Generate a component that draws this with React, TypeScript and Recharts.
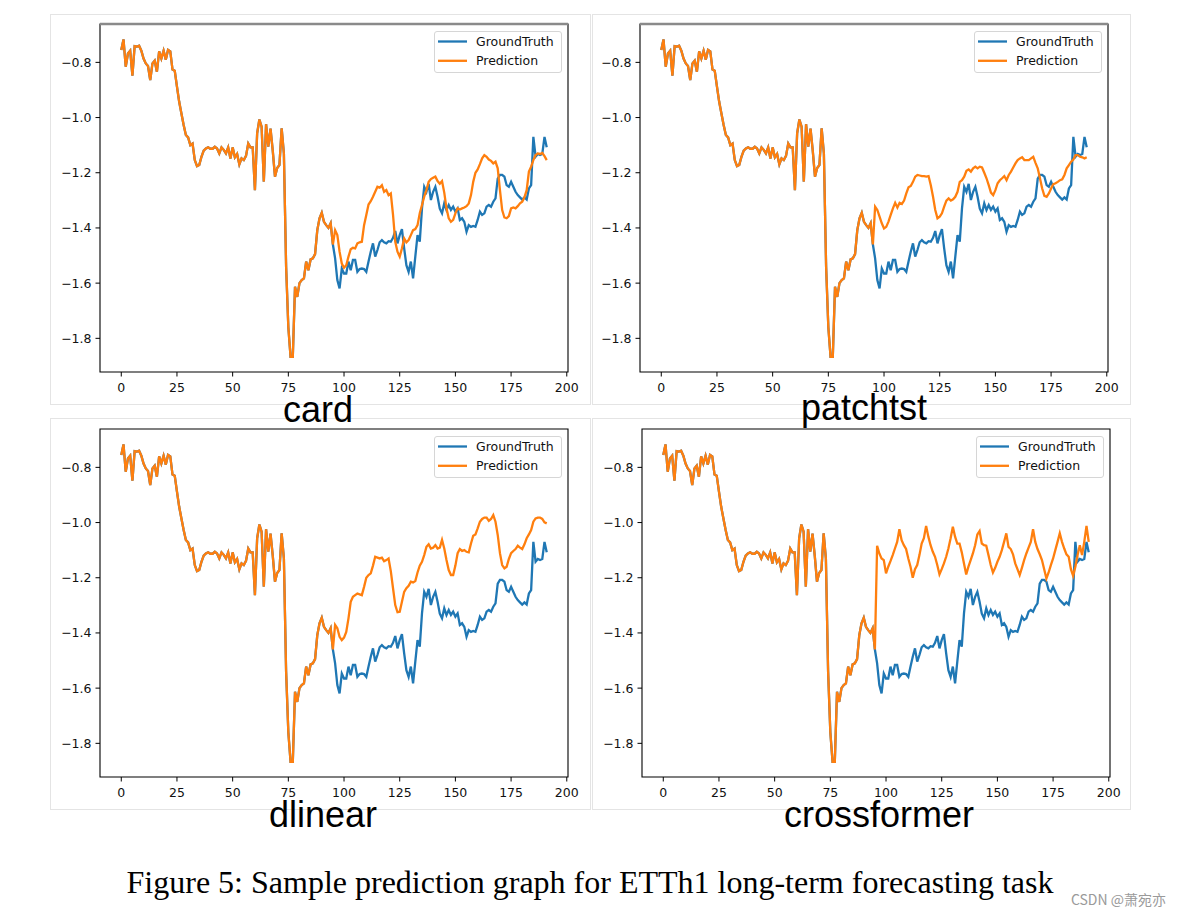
import React from 'react';
import { LineChart, Line, XAxis, YAxis, ReferenceArea, ReferenceLine, Legend } from 'recharts';

// shared look-back window (index 0..95)
const history = [
  -0.755, -0.717, -0.816, -0.768, -0.758, -0.848, -0.741, -0.743, -0.74, -0.758, -0.786, -0.804,
  -0.813, -0.864, -0.804, -0.794, -0.834, -0.76, -0.786, -0.758, -0.79, -0.755, -0.76, -0.826,
  -0.83, -0.888, -0.943, -0.985, -1.027, -1.063, -1.072, -1.1, -1.094, -1.154, -1.176, -1.172,
  -1.142, -1.12, -1.112, -1.108, -1.113, -1.113, -1.106, -1.112, -1.13, -1.108, -1.117, -1.13,
  -1.108, -1.148, -1.108, -1.144, -1.132, -1.17, -1.148, -1.154, -1.139, -1.094, -1.108, -1.108,
  -1.263, -1.057, -1.007, -1.033, -1.232, -1.024, -1.105, -1.04, -1.12, -1.214, -1.183, -1.172,
  -1.039, -1.13, -1.54, -1.76, -1.867, -1.867, -1.613, -1.65, -1.6, -1.589, -1.583, -1.522,
  -1.553, -1.514, -1.51, -1.495, -1.408, -1.365, -1.345, -1.378, -1.39, -1.4, -1.383, -1.46,
];

// ground truth horizon (index 96..191)
const truthFuture = [
  -1.51, -1.589, -1.619, -1.547, -1.565, -1.565, -1.522, -1.553, -1.516, -1.516, -1.559, -1.549,
  -1.547, -1.549, -1.559, -1.522, -1.486, -1.456, -1.504, -1.48, -1.452, -1.444, -1.452, -1.456,
  -1.448, -1.45, -1.436, -1.411, -1.456, -1.426, -1.404, -1.474, -1.535, -1.559, -1.522, -1.583,
  -1.504, -1.426, -1.45, -1.329, -1.251, -1.269, -1.24, -1.299, -1.269, -1.251, -1.287, -1.33,
  -1.347, -1.311, -1.335, -1.317, -1.335, -1.323, -1.341, -1.329, -1.371, -1.365, -1.378, -1.414,
  -1.39, -1.396, -1.393, -1.396, -1.371, -1.341, -1.353, -1.347, -1.323, -1.317, -1.323, -1.305,
  -1.293, -1.221, -1.208, -1.208, -1.214, -1.245, -1.251, -1.233, -1.251, -1.269, -1.281, -1.289,
  -1.297, -1.289, -1.297, -1.257, -1.245, -1.07, -1.142, -1.132, -1.136, -1.132, -1.07, -1.108,
];

const cardPred = [
  -1.408, -1.426, -1.486, -1.529, -1.544, -1.535, -1.504, -1.477, -1.472, -1.474, -1.456, -1.452,
  -1.45, -1.39, -1.353, -1.315, -1.303, -1.287, -1.269, -1.251, -1.254, -1.245, -1.269, -1.263,
  -1.281, -1.275, -1.353, -1.45, -1.486, -1.504, -1.474, -1.438, -1.452, -1.444, -1.426, -1.408,
  -1.404, -1.39, -1.347, -1.317, -1.287, -1.263, -1.233, -1.223, -1.218, -1.214, -1.23, -1.24,
  -1.23, -1.272, -1.329, -1.365, -1.378, -1.371, -1.347, -1.329, -1.333, -1.329, -1.326, -1.321,
  -1.311, -1.281, -1.233, -1.2, -1.188, -1.169, -1.148, -1.136, -1.142, -1.152, -1.157, -1.166,
  -1.16, -1.184, -1.263, -1.335, -1.362, -1.365, -1.357, -1.329, -1.326, -1.329, -1.321, -1.311,
  -1.305, -1.289, -1.263, -1.196, -1.178, -1.154, -1.136, -1.13, -1.132, -1.128, -1.14, -1.154,
];

const patchtstPred = [
  -1.323, -1.335, -1.359, -1.383, -1.402, -1.396, -1.377, -1.353, -1.329, -1.309, -1.326, -1.309,
  -1.313, -1.301, -1.275, -1.253, -1.248, -1.233, -1.214, -1.208, -1.21, -1.212, -1.212, -1.214,
  -1.212, -1.245, -1.287, -1.335, -1.365, -1.359, -1.347, -1.323, -1.301, -1.293, -1.301, -1.296,
  -1.287, -1.269, -1.233, -1.227, -1.214, -1.193, -1.188, -1.196, -1.184, -1.178, -1.184, -1.178,
  -1.181, -1.2, -1.22, -1.245, -1.272, -1.281, -1.263, -1.238, -1.227, -1.22, -1.212, -1.227,
  -1.208, -1.196, -1.181, -1.166, -1.154, -1.148, -1.144, -1.154, -1.154, -1.154, -1.148, -1.142,
  -1.164, -1.184, -1.22, -1.257, -1.284, -1.287, -1.275, -1.257, -1.241, -1.238, -1.233, -1.227,
  -1.224, -1.208, -1.184, -1.172, -1.16, -1.152, -1.136, -1.136, -1.142, -1.144, -1.148, -1.144,
];

const dlinearPred = [
  -1.371, -1.383, -1.414, -1.426, -1.417, -1.396, -1.347, -1.287, -1.269, -1.263, -1.257, -1.26,
  -1.263, -1.233, -1.2, -1.19, -1.184, -1.156, -1.124, -1.127, -1.13, -1.127, -1.14, -1.136,
  -1.13, -1.176, -1.238, -1.299, -1.325, -1.323, -1.287, -1.251, -1.238, -1.229, -1.214, -1.217,
  -1.212, -1.181, -1.156, -1.142, -1.118, -1.088, -1.079, -1.094, -1.091, -1.082, -1.094, -1.091,
  -1.063, -1.094, -1.136, -1.172, -1.19, -1.19, -1.156, -1.111, -1.096, -1.103, -1.1, -1.106,
  -1.108, -1.076, -1.048, -1.043, -1.021, -0.997, -0.987, -0.982, -0.982, -0.994, -0.987, -0.973,
  -0.997, -1.045, -1.111, -1.154, -1.166, -1.16, -1.132, -1.111, -1.103, -1.096, -1.084, -1.091,
  -1.096, -1.079, -1.057, -1.043, -1.027, -0.997, -0.985, -0.982, -0.982, -0.987, -0.999, -1.003,
];

const crossformerPred = [
  -1.084, -1.112, -1.13, -1.136, -1.184, -1.16, -1.14, -1.118, -1.094, -1.07, -1.024, -1.064,
  -1.082, -1.096, -1.13, -1.16, -1.2, -1.169, -1.154, -1.118, -1.076, -1.057, -1.012, -1.051,
  -1.082, -1.106, -1.124, -1.154, -1.188, -1.169, -1.148, -1.124, -1.094, -1.057, -1.015, -1.051,
  -1.076, -1.076, -1.108, -1.148, -1.188, -1.16, -1.136, -1.112, -1.082, -1.043, -1.031, -1.076,
  -1.082, -1.084, -1.118, -1.154, -1.181, -1.164, -1.142, -1.124, -1.1, -1.07, -1.039, -1.088,
  -1.096, -1.115, -1.148, -1.169, -1.19, -1.164, -1.136, -1.112, -1.091, -1.07, -1.024, -1.07,
  -1.096, -1.115, -1.136, -1.169, -1.203, -1.181, -1.154, -1.13, -1.1, -1.07, -1.039, -1.07,
  -1.094, -1.115, -1.124, -1.169, -1.193, -1.16, -1.118, -1.082, -1.118, -1.07, -1.012, -1.07,
];

const xTicks = [0, 25, 50, 75, 100, 125, 150, 175, 200];
const yTicks = [-1.8, -1.6, -1.4, -1.2, -1.0, -0.8];
const panelNames = ['card', 'patchtst', 'dlinear', 'crossformer'];
const seriesNames = ['GroundTruth', 'Prediction'];
const captionText = 'Figure 5: Sample prediction graph for ETTh1 long-term forecasting task';
const watermarkText = 'CSDN @萧宛亦';

const X_DOMAIN: [number, number] = [-9.55, 200.55];
const Y_DOMAIN: [number, number] = [-1.922, -0.661];
const BLUE = '#1f77b4';
const ORANGE = '#ff7f0e';
const TICK_FONT = { fontSize: 12.5, fill: '#111', fontFamily: 'DejaVu Sans' };

function buildData(pred: number[]) {
  const gt = history.concat(truthFuture);
  const pd = history.concat(pred);
  return gt.map((v, i) => ({ x: i, gt: v, pred: pd[i] }));
}

const fmtY = (v: number) => (v < 0 ? '\u2212' : '') + Math.abs(v).toFixed(1);

const renderLegend = (props: any) => {
  const payload = (props.payload || []) as any[];
  return (
    <div
      style={{
        boxSizing: 'border-box',
        width: 128,
        height: 42,
        border: '1px solid #d6d6d6',
        borderRadius: 3,
        background: 'rgba(255,255,255,0.85)',
        position: 'relative',
      }}
    >
      <svg width={128} height={42} style={{ position: 'absolute', left: -1, top: -1 }}>
        {payload.map((p, k) => (
          <g key={k}>
            <line x1={4} x2={33} y1={10.5 + k * 19.3} y2={10.5 + k * 19.3} stroke={p.color} strokeWidth={2.3} />
            <text x={42} y={15 + k * 19.3} fontSize={12.5} fontFamily="DejaVu Sans" fill="#111">
              {p.value}
            </text>
          </g>
        ))}
      </svg>
    </div>
  );
};

function Panel({ left, top, pred, heavyTop }: { left: number; top: number; pred: number[]; heavyTop: boolean }) {
  const data = buildData(pred);
  return (
    <div style={{ position: 'absolute', left, top }}>
      <LineChart width={540} height={388} data={data} margin={{ top: 10, right: 12, bottom: 0, left: 0 }}>
        <XAxis
          type="number"
          dataKey="x"
          domain={X_DOMAIN}
          ticks={xTicks}
          interval={0}
          allowDataOverflow
          axisLine={false}
          tickLine={{ stroke: '#000' }}
          tickSize={4.5}
          tickMargin={7}
          height={30}
          tick={TICK_FONT}
        />
        <YAxis
          type="number"
          domain={Y_DOMAIN}
          ticks={yTicks}
          interval={0}
          allowDataOverflow
          axisLine={false}
          tickLine={{ stroke: '#000' }}
          tickSize={4.5}
          tickMargin={4}
          width={60}
          tick={TICK_FONT}
          tickFormatter={fmtY}
        />
        <Line
          type="linear"
          dataKey="gt"
          name={seriesNames[0]}
          stroke={BLUE}
          strokeWidth={2.3}
          dot={false}
          isAnimationActive={false}
        />
        <Line
          type="linear"
          dataKey="pred"
          name={seriesNames[1]}
          stroke={ORANGE}
          strokeWidth={2.3}
          dot={false}
          isAnimationActive={false}
        />
        <ReferenceArea
          x1={X_DOMAIN[0]}
          x2={X_DOMAIN[1]}
          y1={Y_DOMAIN[0]}
          y2={Y_DOMAIN[1]}
          fill="none"
          fillOpacity={0}
          stroke="#000"
          strokeWidth={1.1}
          ifOverflow="visible"
        />
        {heavyTop && (
          <ReferenceLine y={Y_DOMAIN[1]} stroke="#8a8a8a" strokeWidth={2.6} ifOverflow="visible" />
        )}
        <Legend
          content={renderLegend}
          layout="horizontal"
          verticalAlign="middle"
          align="center"
          wrapperStyle={{ left: 394, top: 16.5, width: 128, height: 42 }}
        />
      </LineChart>
    </div>
  );
}

const panels = [
  { left: 40, top: 14, pred: cardPred, heavyTop: true, labelX: 318, labelY: 421.5 },
  { left: 580, top: 14, pred: patchtstPred, heavyTop: true, labelX: 864, labelY: 420 },
  { left: 40, top: 419, pred: dlinearPred, heavyTop: false, labelX: 323, labelY: 827 },
  { left: 582, top: 419, pred: crossformerPred, heavyTop: false, labelX: 879, labelY: 827 },
];

const frames = [
  { x: 50, y: 14, w: 540, h: 390 },
  { x: 592, y: 14, w: 538, h: 390 },
  { x: 50, y: 418, w: 540, h: 391 },
  { x: 592, y: 418, w: 538, h: 391 },
];

export default function App() {
  return (
    <div style={{ position: 'absolute', left: 0, top: 0, width: 1183, height: 918, background: '#fff', overflow: 'hidden' }}>
      <svg width={1183} height={918} style={{ position: 'absolute', left: 0, top: 0 }}>
        {frames.map((f, k) => (
          <rect key={k} x={f.x + 0.5} y={f.y + 0.5} width={f.w} height={f.h} fill="none" stroke="#e4e4e4" strokeWidth={1} />
        ))}
      </svg>
      {panels.map((p, k) => (
        <Panel key={k} left={p.left} top={p.top} pred={p.pred} heavyTop={p.heavyTop} />
      ))}
      <svg width={1183} height={918} style={{ position: 'absolute', left: 0, top: 0, pointerEvents: 'none' }}>
        {panels.map((p, k) => (
          <text
            key={k}
            x={p.labelX}
            y={p.labelY}
            textAnchor="middle"
            fontSize={36}
            fontFamily="Liberation Sans, Arial, sans-serif"
            fill="#000"
          >
            {panelNames[k]}
          </text>
        ))}
        <text x={590} y={893} textAnchor="middle" fontSize={32} fontFamily="Liberation Serif, Times New Roman, serif" fill="#000">
          {captionText}
        </text>
        <text x={1166} y={905} textAnchor="end" fontSize={14} fontFamily="Noto Sans CJK SC, Noto Sans, sans-serif" fill="#9a9a9a">
          {watermarkText}
        </text>
      </svg>
    </div>
  );
}
